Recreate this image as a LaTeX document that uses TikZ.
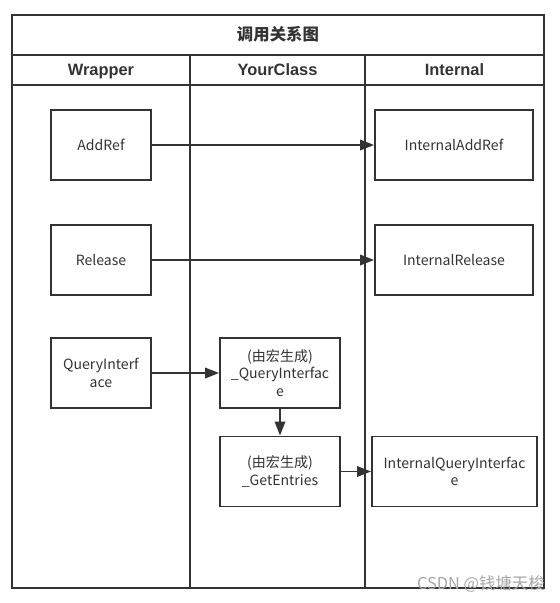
\documentclass[tikz,border=0pt]{standalone}
\usepackage{fontspec}
\setmainfont{Liberation Sans}
\newfontfamily\cjk{Noto Sans CJK SC}
\usetikzlibrary{arrows.meta}
\definecolor{ink}{HTML}{333333}
\tikzset{
  lane/.style={draw=ink, line width=1.6pt},
  headtext/.style={font=\fontsize{14}{16}\selectfont\bfseries, text=ink, anchor=base},
  callbox/.style={draw=ink, line width=1.6pt, minimum width=#1*0.03cm, minimum height=70*0.03cm,
    align=center, font=\cjk\fontsize{12}{15}\selectfont, text=ink, inner sep=0pt},
  callbox/.default=100,
  callarrow/.style={draw=ink, line width=1.6pt, -{Triangle[length=12pt,width=9pt]}}
}
\begin{document}
\begin{tikzpicture}[x=0.03cm, y=-0.03cm]
			%%%%% START %%%%%
			\useasboundingbox (0, 0) rectangle (560, 603);
			
			\draw[lane] (12, 15) rectangle (544, 588);
			\draw[lane] (12, 55) -- (544, 55);
			\draw[lane] (12, 85) -- (544, 85);
			\draw[lane] (190, 55) -- (190, 588);
			\draw[lane] (365, 55) -- (365, 588);
			
			\node[headtext, font=\cjk\fontsize{14}{16}\selectfont\bfseries] (title) at (278, 40.5) {调用关系图};
			\node[headtext] (wrapper) at (101, 75.5) {Wrapper};
			\node[headtext] (yourclass) at (277.5, 75.5) {YourClass};
			\node[headtext] (internal) at (454.5, 75.5) {Internal};
			
			\node[callbox] (addref) at (101, 145) {AddRef};
			\node[callbox] (release) at (101, 260) {Release};
			\node[callbox] (query) at (101, 373) {QueryInterf\\ace};
			
			\node[callbox=120] (macroquery) at (280, 373) {(由宏生成)\\\_QueryInterfac\\e};
			\node[callbox=120] (entries) at (280, 471.5) {(由宏生成)\\\_GetEntries};
			
			\node[callbox=158] (intaddref) at (454, 145) {InternalAddRef};
			\node[callbox=158] (intrelease) at (454, 260) {InternalRelease};
			\node[callbox=165] (intquery) at (454.5, 471.5) {InternalQueryInterfac\\e};
			
			\draw[callarrow] (addref) -- (intaddref);
			\draw[callarrow] (release) -- (intrelease);
			\draw[callarrow] (query) -- (macroquery);
			\draw[callarrow] (macroquery) -- (entries);
			\draw[callarrow] (entries) -- (intquery);
			
			\node[text=black!35, font=\cjk\fontsize{14}{16}\selectfont, anchor=south east, inner sep=0pt] (mark) at (545, 593) {CSDN @钱塘天梭};
			
			%%%%% END %%%%%
		\end{tikzpicture}
\end{document}
